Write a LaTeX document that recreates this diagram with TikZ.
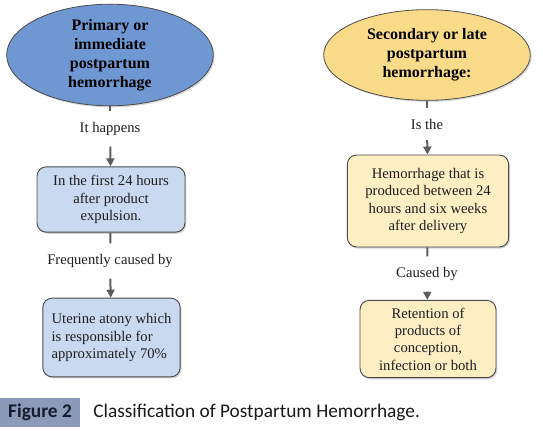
\documentclass[tikz,border=0pt]{standalone}
\usepackage{fontspec}
\setmainfont{Liberation Serif}
\newfontfamily\capfont{Carlito}
\usetikzlibrary{arrows.meta,shapes.geometric,shadows}
\definecolor{primfill}{RGB}{111,152,211}
\definecolor{secfill}{RGB}{250,219,138}
\definecolor{primbox}{RGB}{201,217,240}
\definecolor{secbox}{RGB}{253,238,196}
\definecolor{edge}{RGB}{75,75,75}
\definecolor{capbox}{RGB}{139,154,185}
\definecolor{inktext}{RGB}{30,30,30}

\begin{document}
\begin{tikzpicture}[x=0.75pt,y=-0.75pt,
  head/.style={ellipse,draw=edge,line width=0.6pt,inner sep=0pt,align=center,
    minimum width=155pt,minimum height=68pt,text=black,
    font=\bfseries\fontsize{12}{14.3}\selectfont,
    drop shadow={opacity=0.3,shadow xshift=1pt,shadow yshift=-1.2pt}},
  stepbox/.style={rectangle,rounded corners=7pt,draw=edge,line width=0.7pt,inner sep=0pt,
    text=inktext,font=\fontsize{11}{13}\selectfont,
    drop shadow={opacity=0.35,shadow xshift=1pt,shadow yshift=-1.2pt}},
  midlbl/.style={inner sep=8pt,text=inktext,font=\fontsize{11}{13}\selectfont},
  link/.style={draw=edge!90,line width=1.5pt}]
  \useasboundingbox (0,0) rectangle (543,431);

  % left column
  \node[head,fill=primfill] (primEll) at (110,55) {Primary or\\immediate\\postpartum\\hemorrhage};
  \node[midlbl] (lHappens) at (110,129) {It happens};
  \node[stepbox,fill=primbox,minimum width=111pt,minimum height=49pt,align=center] (firstBox) at (111,199.5)
    {In the first 24 hours\\after product\\expulsion.};
  \node[midlbl] (lFreq) at (110,261) {Frequently caused by};
  \node[stepbox,fill=primbox,minimum width=103pt,minimum height=59pt,align=left] (atonyBox) at (111.5,337.5)
    {Uterine atony which\\is responsible for\\approximately 70\%};

  % right column
  \node[head,fill=secfill] (secEll) at (427,55) {Secondary or late\\postpartum\\hemorrhage:};
  \node[midlbl] (lIsThe) at (427,124) {Is the};
  \node[stepbox,fill=secbox,minimum width=121pt,minimum height=69pt,align=center] (lateBox) at (428,201)
    {Hemorrhage that is\\produced between 24\\hours and six weeks\\after delivery};
  \node[midlbl] (lCaused) at (427,274) {Caused by};
  \node[stepbox,fill=secbox,minimum width=102pt,minimum height=58pt,align=center] (retBox) at (428,339)
    {Retention of\\products of\\conception,\\infection or both};

  \foreach \a/\l/\b in {primEll/lHappens/firstBox,firstBox/lFreq/atonyBox,secEll/lIsThe/lateBox,lateBox/lCaused/retBox}{
    \draw[link] (\a) -- (\l);
    \draw[link,-{Triangle[width=6pt,length=6pt]}] (\l) -- (\b);
  }

  % caption
  \node[fill=capbox,minimum width=60pt,minimum height=22pt,inner sep=0pt,
    font=\capfont\bfseries\fontsize{14.5}{16}\selectfont,text={rgb,255:red,20;green,28;blue,45}] (figTag) at (40,412.5) {Figure 2};
  \node[anchor=west,inner sep=0pt,font=\capfont\fontsize{14.5}{16}\selectfont,text={rgb,255:red,25;green,25;blue,25}]
    (figCap) at (93,412.5) {Classification of Postpartum Hemorrhage.};
\end{tikzpicture}
\end{document}
